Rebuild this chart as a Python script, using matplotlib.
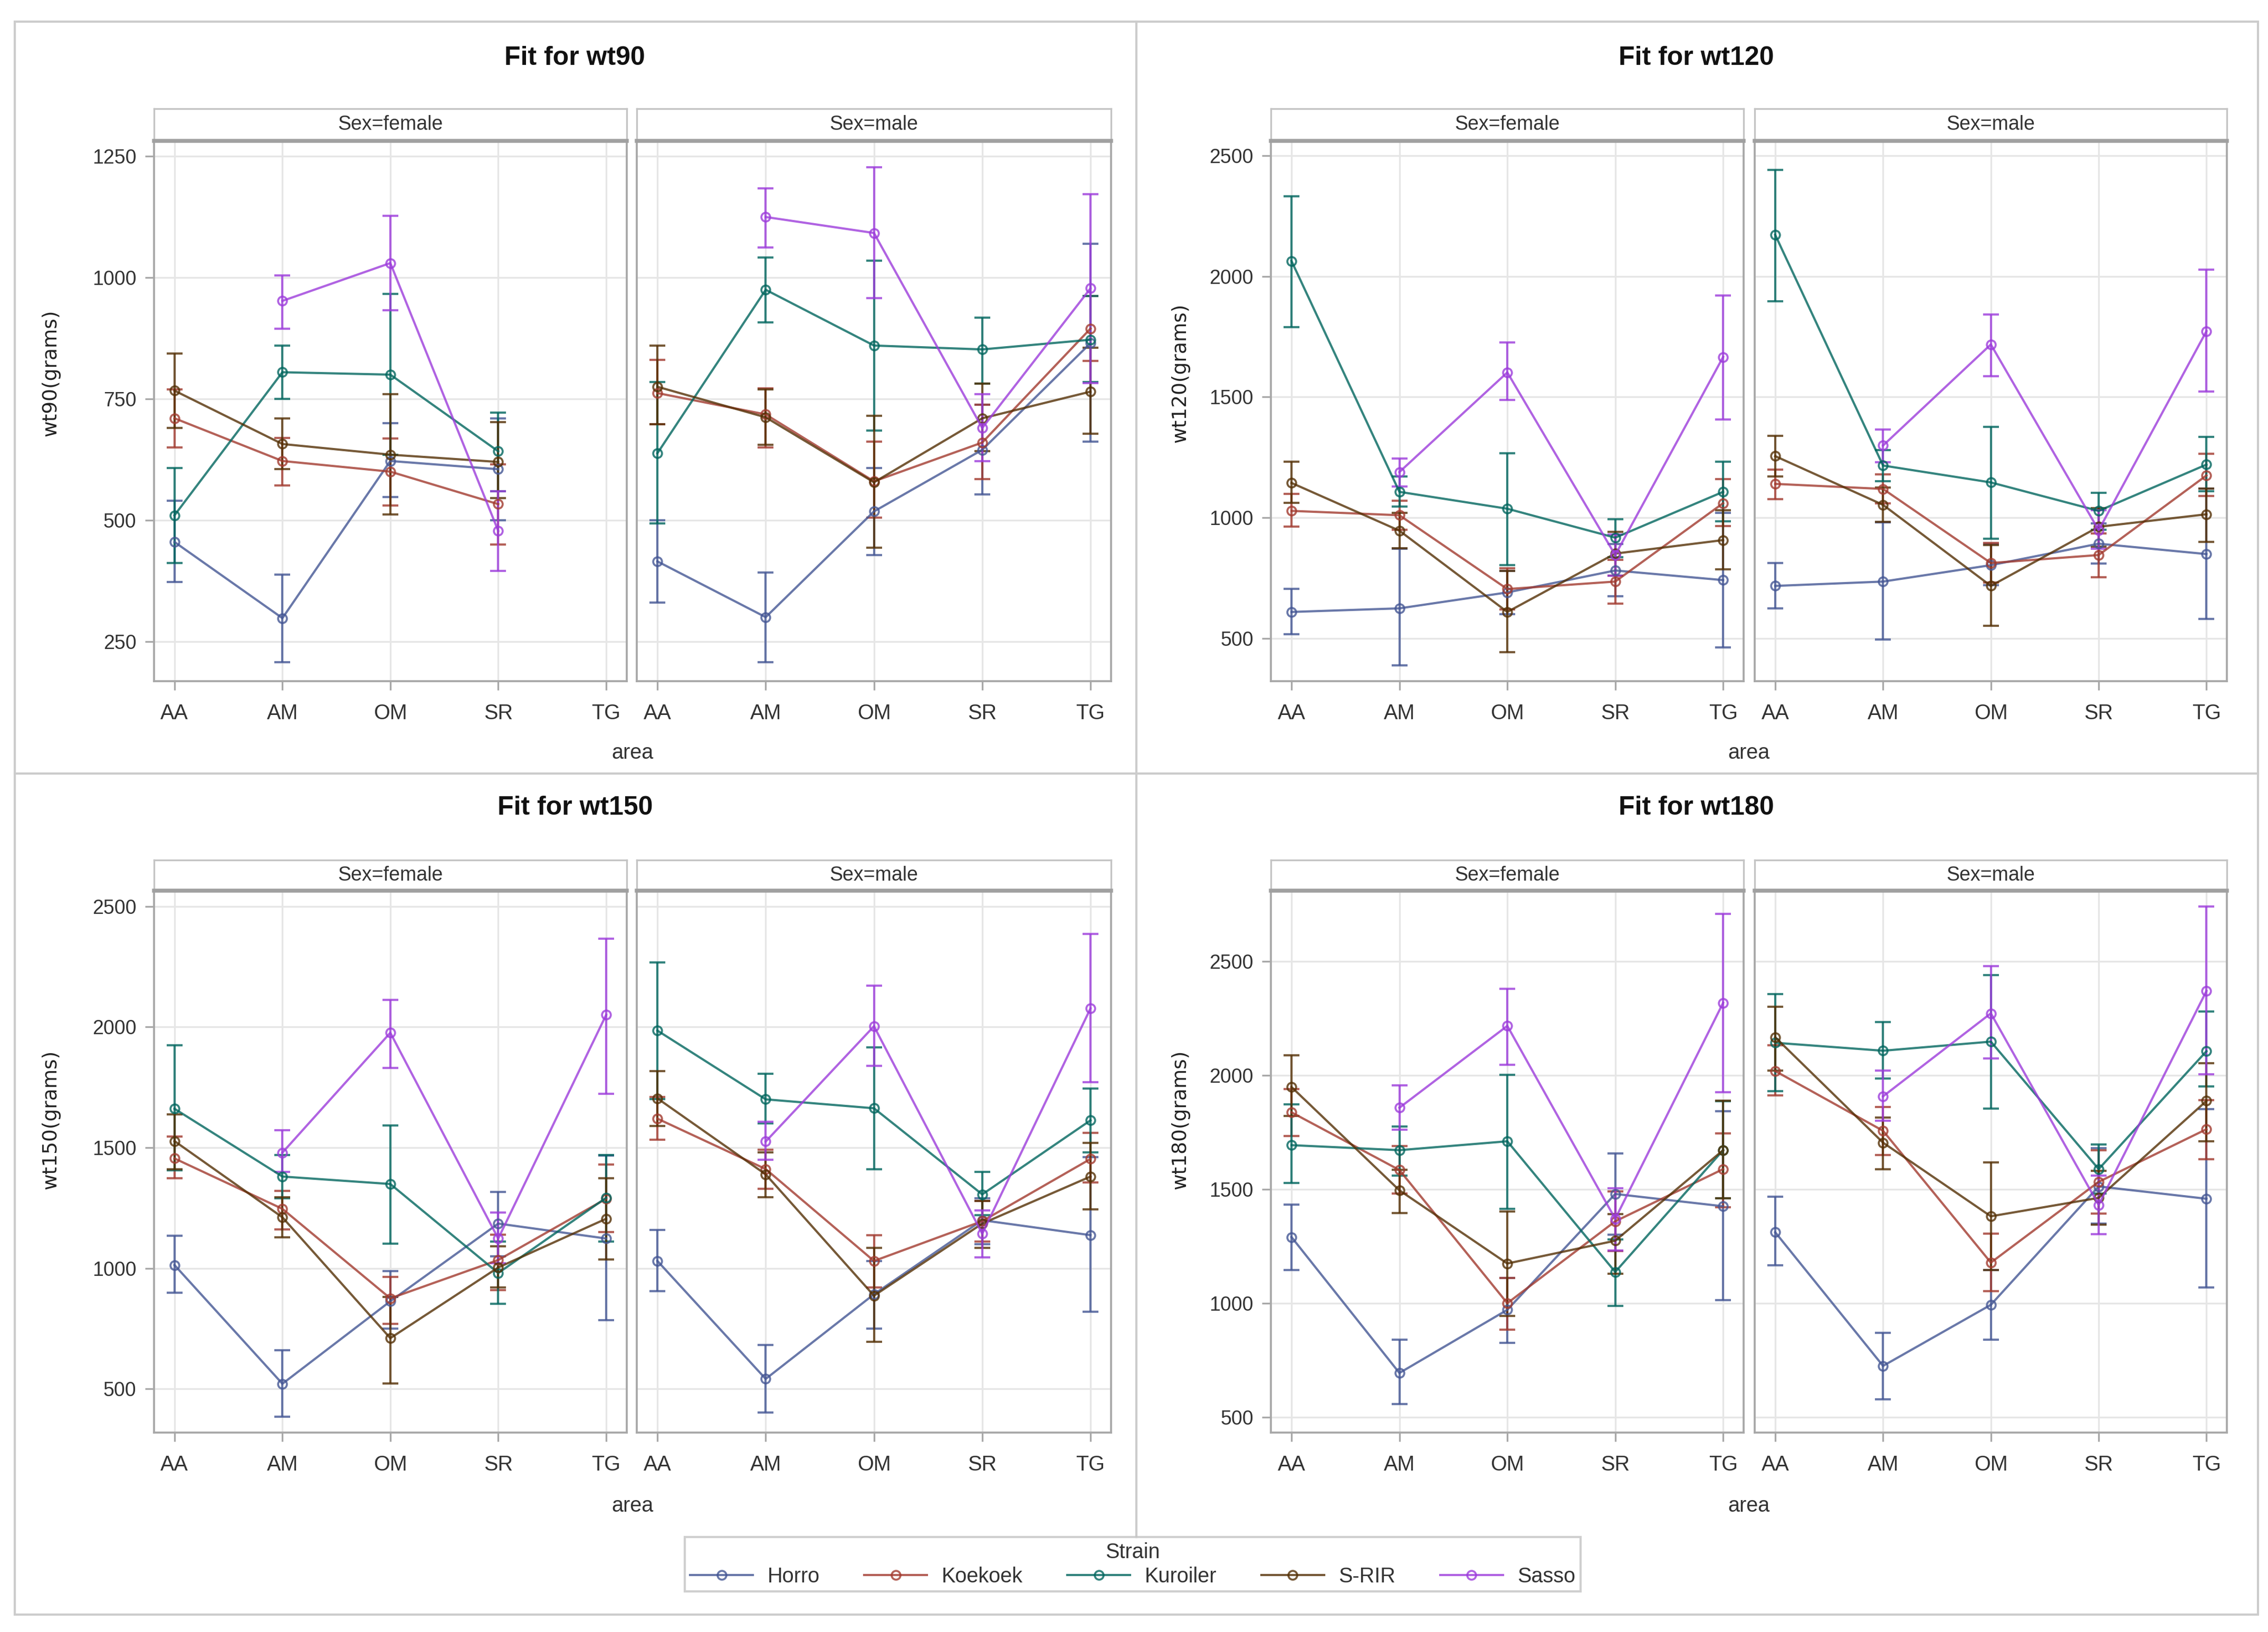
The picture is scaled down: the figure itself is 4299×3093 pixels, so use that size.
import numpy as np
import matplotlib
matplotlib.use("Agg")
import matplotlib.pyplot as plt
from matplotlib.lines import Line2D
from matplotlib.patches import Rectangle

nan = np.nan

areas = ["AA", "AM", "OM", "SR", "TG"]
strains = ["Horro", "Koekoek", "Kuroiler", "S-RIR", "Sasso"]
strain_colors = ["#445694", "#A23A2E", "#01665E", "#543005", "#9D3CDB"]

# rows follow `strains`, columns follow `areas`
wt90_female_mean = [[455, 298, 622, 605, nan], [710, 622, 600, 533, nan], [510, 805, 800, 642, nan],
                    [767, 657, 635, 620, nan], [nan, 952, 1030, 478, nan]]
wt90_female_lo = [[373, 207, 548, 500, nan], [650, 572, 530, 450, nan], [412, 750, 635, 560, nan],
                  [690, 605, 512, 545, nan], [nan, 895, 933, 395, nan]]
wt90_female_hi = [[540, 388, 700, 710, nan], [770, 670, 668, 615, nan], [607, 860, 967, 722, nan],
                  [843, 710, 760, 702, nan], [nan, 1005, 1127, 560, nan]]

wt90_male_mean = [[415, 300, 518, 645, 865], [762, 718, 580, 660, 895], [638, 975, 860, 852, 872],
                  [775, 712, 578, 710, 765], [nan, 1125, 1092, 690, 978]]
wt90_male_lo = [[330, 207, 428, 553, 662], [698, 650, 505, 585, 828], [493, 908, 685, 782, 785],
                [698, 655, 443, 642, 678], [nan, 1062, 958, 622, 783]]
wt90_male_hi = [[500, 392, 607, 738, 1070], [830, 772, 662, 738, 962], [785, 1041, 1035, 918, 962],
                [860, 770, 715, 781, 855], [nan, 1184, 1227, 760, 1172]]

wt120_female_mean = [[609, 624, 690, 781, 741], [1028, 1010, 704, 735, 1060], [2064, 1107, 1037, 917, 1107],
                     [1144, 946, 609, 851, 907], [nan, 1189, 1602, 845, 1666]]
wt120_female_lo = [[517, 387, 600, 675, 463], [962, 950, 620, 644, 965], [1790, 1045, 803, 835, 985],
                   [1061, 874, 442, 760, 785], [nan, 1130, 1487, 760, 1406]]
wt120_female_hi = [[704, 870, 780, 890, 1020], [1098, 1070, 790, 825, 1160], [2333, 1170, 1268, 993, 1231],
                   [1231, 1020, 779, 940, 1030], [nan, 1245, 1726, 930, 1920]]

wt120_male_mean = [[717, 735, 803, 892, 849], [1140, 1119, 812, 845, 1175], [2172, 1216, 1146, 1028, 1220],
                   [1255, 1053, 717, 962, 1014], [nan, 1299, 1718, 948, 1773]]
wt120_male_lo = [[624, 494, 720, 810, 580], [1076, 1060, 730, 752, 1090], [1897, 1150, 913, 950, 1110],
                 [1170, 983, 552, 880, 900], [nan, 1230, 1586, 870, 1522]]
wt120_male_hi = [[812, 980, 890, 975, 1120], [1200, 1180, 895, 935, 1264], [2442, 1280, 1377, 1103, 1334],
                 [1340, 1125, 886, 1040, 1120], [nan, 1365, 1842, 1030, 2029]]

wt150_female_mean = [[1013, 521, 863, 1185, 1123], [1455, 1246, 875, 1034, 1288], [1661, 1380, 1349, 980, 1292],
                     [1527, 1211, 710, 1003, 1205], [nan, 1479, 1976, 1123, 2050]]
wt150_female_lo = [[898, 385, 750, 1050, 785], [1374, 1160, 770, 910, 1150], [1405, 1290, 1102, 853, 1110],
                   [1410, 1129, 523, 920, 1036], [nan, 1400, 1830, 1020, 1723]]
wt150_female_hi = [[1135, 661, 987, 1317, 1467], [1545, 1320, 965, 1140, 1430], [1925, 1470, 1591, 1110, 1470],
                   [1638, 1294, 880, 1090, 1373], [nan, 1572, 2112, 1230, 2366]]

wt150_male_mean = [[1030, 541, 892, 1199, 1137], [1620, 1411, 1030, 1195, 1453], [1985, 1700, 1663, 1306, 1613],
                   [1704, 1389, 886, 1185, 1380], [nan, 1525, 2003, 1143, 2077]]
wt150_male_lo = [[904, 401, 750, 1100, 820], [1533, 1330, 920, 1110, 1355], [1700, 1600, 1411, 1220, 1480],
                 [1590, 1294, 694, 1085, 1244], [nan, 1450, 1838, 1044, 1772]]
wt150_male_hi = [[1159, 681, 1030, 1290, 1460], [1710, 1490, 1137, 1280, 1562], [2267, 1805, 1916, 1399, 1745],
                 [1818, 1480, 1085, 1280, 1520], [nan, 1607, 2172, 1240, 2385]]

wt180_female_mean = [[1290, 694, 971, 1479, 1425], [1837, 1584, 1000, 1359, 1588], [1693, 1671, 1710, 1137, 1671],
                     [1948, 1495, 1174, 1274, 1671], [nan, 1857, 2216, 1370, 2317]]
wt180_female_lo = [[1146, 557, 825, 1300, 1013], [1734, 1480, 884, 1228, 1420], [1527, 1560, 1414, 989, 1460],
                   [1820, 1396, 945, 1130, 1460], [nan, 1760, 2046, 1230, 1924]]
wt180_female_hi = [[1433, 840, 1110, 1656, 1841], [1940, 1690, 1110, 1490, 1745], [1872, 1774, 2001, 1280, 1885],
                   [2086, 1585, 1403, 1390, 1887], [nan, 1955, 2378, 1505, 2707]]

wt180_male_mean = [[1311, 725, 993, 1512, 1458], [2018, 1756, 1178, 1532, 1763], [2142, 2107, 2147, 1588, 2105],
                   [2166, 1704, 1381, 1462, 1887], [nan, 1907, 2271, 1431, 2369]]
wt180_male_lo = [[1167, 579, 840, 1350, 1069], [1911, 1650, 1052, 1394, 1632], [1930, 1985, 1854, 1480, 1950],
                 [2020, 1588, 1145, 1344, 1710], [nan, 1800, 2073, 1303, 2003]]
wt180_male_hi = [[1466, 869, 1145, 1680, 1850], [2130, 1860, 1305, 1671, 1890], [2356, 2232, 2438, 1697, 2280],
                 [2301, 1815, 1617, 1580, 2053], [nan, 2020, 2478, 1560, 2740]]

wt90_ticks = [250, 500, 750, 1000, 1250]
wt_ticks = [500, 1000, 1500, 2000, 2500]

FONT = ["Liberation Sans", "DejaVu Sans"]
plt.rcParams["font.family"] = FONT
TXT = "#333333"
FRAME = "#A8A8A8"


def draw_panel(ax, mean, lo, hi, ylim, yticks, show_y):
    x = np.arange(len(areas))
    for i, c in enumerate(strain_colors):
        m = np.array(mean[i], float)
        l = np.array(lo[i], float)
        h = np.array(hi[i], float)
        ok = ~np.isnan(m)
        ax.errorbar(x[ok], m[ok], yerr=[m[ok] - l[ok], h[ok] - m[ok]], fmt="none",
                    ecolor=c, elinewidth=1.0, capsize=3.5, capthick=1.0, alpha=0.8, zorder=3)
        ax.plot(x, m, color=c, lw=1.0, marker="o", ms=4, mfc="none", mew=0.9,
                alpha=0.8, zorder=4)
    ax.set_xlim(-0.19, 4.19)
    ax.set_ylim(*ylim)
    ax.set_xticks(x)
    ax.set_xticklabels(areas)
    ax.set_yticks(yticks)
    ax.grid(True, color="#E6E6E6", lw=0.8, zorder=0)
    ax.set_axisbelow(True)
    for sp in ax.spines.values():
        sp.set_color(FRAME)
        sp.set_linewidth(0.9)
    ax.tick_params(axis="x", length=4, width=0.8, color=FRAME, pad=6, labelsize=9.5, labelcolor=TXT)
    ax.tick_params(axis="y", length=4, width=0.8, color=FRAME, pad=4, labelsize=9, labelcolor=TXT)
    if not show_y:
        ax.tick_params(axis="y", length=0, labelleft=False)


def draw_strip(fig, rect, label):
    sa = fig.add_axes(rect)
    sa.set_xticks([])
    sa.set_yticks([])
    for sp in sa.spines.values():
        sp.set_color("#C4C4C4")
        sp.set_linewidth(0.8)
    sa.spines["bottom"].set_color("#A0A0A0")
    sa.spines["bottom"].set_linewidth(1.8)
    sa.text(0.5, 0.5, label, ha="center", va="center", fontsize=9, color=TXT,
            transform=sa.transAxes)


fig = plt.figure(figsize=(4299 / 300, 3093 / 300), dpi=300)

panels = [
    ("wt90", wt90_female_mean, wt90_female_lo, wt90_female_hi,
     wt90_male_mean, wt90_male_lo, wt90_male_hi, (168, 1282), wt90_ticks),
    ("wt120", wt120_female_mean, wt120_female_lo, wt120_female_hi,
     wt120_male_mean, wt120_male_lo, wt120_male_hi, (322, 2562), wt_ticks),
    ("wt150", wt150_female_mean, wt150_female_lo, wt150_female_hi,
     wt150_male_mean, wt150_male_lo, wt150_male_hi, (318, 2566), wt_ticks),
    ("wt180", wt180_female_mean, wt180_female_lo, wt180_female_hi,
     wt180_male_mean, wt180_male_lo, wt180_male_hi, (432, 2810), wt_ticks),
]

# layout in figure fractions: (female left, female right, male left, male right)
cols = [(0.0679, 0.2763, 0.2808, 0.4899), (0.5604, 0.7688, 0.7737, 0.9819)]
# (plot bottom, plot top, strip top, title y, ylabel y, area y)
rows = [(0.5826, 0.9137, 0.9334, 0.9644, 0.7715, 0.5387),
        (0.1221, 0.4544, 0.4730, 0.5049, 0.3140, 0.0773)]
quad_centers = [0.2535, 0.7480]
ylabel_x = [0.0224, 0.5205]

for k, (name, fm, fl, fh, mm, ml, mh, ylim, yticks) in enumerate(panels):
    c = cols[k % 2]
    r = rows[k // 2]
    bottom, top, strip_top, title_y, ylab_y, area_y = r
    h = top - bottom
    axf = fig.add_axes([c[0], bottom, c[1] - c[0], h])
    axm = fig.add_axes([c[2], bottom, c[3] - c[2], h])
    draw_panel(axf, fm, fl, fh, ylim, yticks, True)
    draw_panel(axm, mm, ml, mh, ylim, yticks, False)
    draw_strip(fig, [c[0], top, c[1] - c[0], strip_top - top], "Sex=female")
    draw_strip(fig, [c[2], top, c[3] - c[2], strip_top - top], "Sex=male")
    fig.text(quad_centers[k % 2], title_y, "Fit for " + name, ha="center", va="center",
             fontsize=12, fontweight="bold", color="#111111")
    fig.text(ylabel_x[k % 2], ylab_y, name + "(grams)", rotation=90, ha="center", va="center",
             fontsize=9, color="#222222", family="DejaVu Sans")
    fig.text((c[0] + c[3]) / 2, area_y, "area", ha="center", va="center", fontsize=9.5, color=TXT)

# outer frame and quadrant dividers
border = "#CCCCCC"
fig.add_artist(Rectangle((0.0064, 0.0107), 0.9891, 0.976, transform=fig.transFigure,
                         fill=False, edgecolor=border, lw=1.0))
fig.add_artist(Line2D([0.0064, 0.9955], [0.526, 0.526], transform=fig.transFigure, color=border, lw=1.0))
fig.add_artist(Line2D([0.501, 0.501], [0.058, 0.9867], transform=fig.transFigure, color=border, lw=1.0))

handles = [Line2D([], [], color=c, lw=1.0, marker="o", ms=4, mfc="none", mew=0.9, alpha=0.8)
           for c in strain_colors]
leg = fig.legend(handles, strains, title="Strain", ncol=5, loc="center",
                 bbox_to_anchor=(0.302, 0.024, 0.395, 0.035), mode="expand",
                 fontsize=9.5, title_fontsize=9.5, frameon=True, fancybox=False,
                 borderpad=0.25, labelspacing=0.2, handlelength=3.0, handletextpad=0.7,
                 columnspacing=1.2, borderaxespad=0)
leg.get_frame().set_edgecolor("#C4C4C4")
leg.get_frame().set_linewidth(1.0)
for t in leg.get_texts():
    t.set_color(TXT)
leg.get_title().set_color(TXT)

fig.savefig("out.png", dpi=300, facecolor="white")
